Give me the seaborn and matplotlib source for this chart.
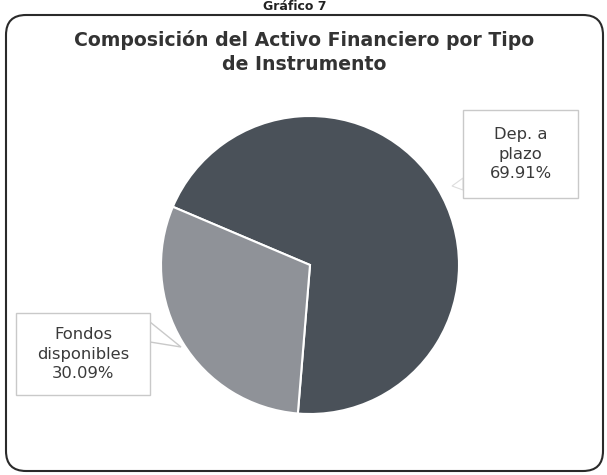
import matplotlib
matplotlib.use("Agg")
import matplotlib.pyplot as plt
import seaborn as sns
from matplotlib.patches import FancyBboxPatch, Rectangle, Polygon
from matplotlib.transforms import IdentityTransform

categories = ["Dep. a\nplazo", "Fondos\ndisponibles"]
values = [69.91, 30.09]
colors = ["#4a5159", "#8f9298"]
title = "Composición del Activo Financiero por Tipo\nde Instrumento"

sns.set_theme(style="white")
plt.rcParams['font.family'] = ['DejaVu Sans']

W, H = 607, 475
fig = plt.figure(figsize=(W / 100, H / 100), dpi=100)
fig.patch.set_facecolor("white")

def fx(px):
    return px / W

def fy(py):
    return 1 - py / H

# pie axes: center (310,265), radius 149 px
cx, cy, r = 310, 265, 149
ax = fig.add_axes([fx(cx - r), fy(cy + r), 2 * r / W, 2 * r / H])
ax.pie(values, colors=colors, startangle=157, counterclock=False,
       wedgeprops=dict(edgecolor="white", linewidth=1.5))
ax.set_xlim(-1, 1)
ax.set_ylim(-1, 1)
ax.set_aspect("auto")
ax.axis("off")

# outer rounded border (display pixel coords)
border = FancyBboxPatch((6, 4), 597, 456, boxstyle="round,pad=0,rounding_size=20",
                        transform=IdentityTransform(), fill=False,
                        edgecolor="#2a2a2a", linewidth=1.5)
fig.patches.append(border)

# header text (mostly cut in the scan; kept small so it stays visible)
fig.text(fx(295), fy(7), "Gráfico 7", ha="center", va="center",
         fontsize=9, fontweight="bold", color="#222222")

fig.text(fx(304), fy(52), title, ha="center", va="center",
         fontsize=13.6, fontweight="bold", color="#333333", linespacing=1.3)

# label boxes
def label_box(x0, y0, x1, y1, text, pct):
    rect = Rectangle((fx(x0), fy(y1)), fx(x1) - fx(x0), fy(y0) - fy(y1),
                     transform=fig.transFigure, facecolor="white",
                     edgecolor="#c9c9c9", linewidth=1.0)
    fig.patches.append(rect)
    fig.text(fx((x0 + x1) / 2), fy((y0 + y1) / 2), f"{text}\n{pct:.2f}%",
             ha="center", va="center", fontsize=11.8, color="#3a3a3a",
             linespacing=1.4)

# callout pointer for Fondos
ptr = Polygon([(fx(150), fy(322)), (fx(181), fy(347)), (fx(150), fy(342))],
              closed=True, transform=fig.transFigure, facecolor="white",
              edgecolor="#c9c9c9", linewidth=1.0)
fig.patches.append(ptr)
ptr2 = Polygon([(fx(463), fy(178)), (fx(452), fy(186)), (fx(463), fy(190))],
               closed=True, transform=fig.transFigure, facecolor="white",
               edgecolor="#dddddd", linewidth=0.8)
fig.patches.append(ptr2)

label_box(463, 110, 578, 198, categories[0], values[0])
label_box(16, 313, 150, 395, categories[1], values[1])

fig.savefig("out.png", dpi=100)
